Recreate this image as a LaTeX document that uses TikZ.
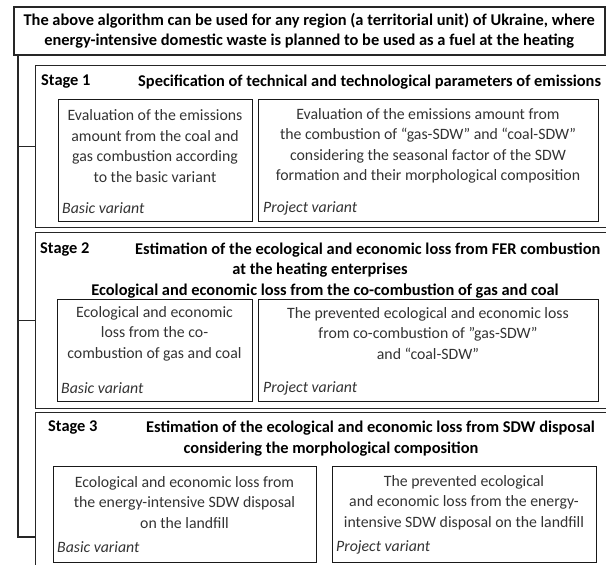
\documentclass[tikz,border=0pt]{standalone}
\usepackage{fontspec}
\setmainfont{Carlito}
\begin{document}
\begin{tikzpicture}[x=1pt,y=-1pt,
  txt/.style={font=\fontsize{15.8}{20.5}\selectfont,text=black!80,align=center,inner sep=0pt},
  head/.style={font=\fontsize{16.4}{20.5}\selectfont\bfseries,align=center,inner sep=0pt},
  var/.style={font=\fontsize{15.8}{20.5}\selectfont\itshape,text=black!80,anchor=west,inner sep=0pt},
  stagebox/.style={draw=black!85,line width=1.3pt,anchor=north west,inner sep=0pt},
  subbox/.style={draw=black!90,line width=1pt,anchor=north west,inner sep=0pt}]
\useasboundingbox (0,0) rectangle (606,565);
\pgfmathsetmacro{\sx}{35};
\pgfmathsetmacro{\sw}{580};
\node[stagebox,line width=1.5pt,minimum width=591pt,minimum height=48pt,head](alg) at (13,6){The above algorithm can be used for any region (a territorial unit) of Ukraine, where\\energy-intensive domestic waste is planned to be used as a fuel at the heating};
\node[stagebox,minimum width=\sw pt,minimum height=162pt](s1) at (\sx,65){};
\node[stagebox,minimum width=\sw pt,minimum height=176pt](s2) at (\sx,232){};
\node[stagebox,minimum width=\sw pt,minimum height=170pt](s3) at (\sx,412){};
\coordinate(trend) at (18,537);
\draw[line width=1.3pt,black!85]([xshift=5pt]alg.south west)--(trend)--(trend-|s3.west);
\draw[line width=1.3pt,black!85](s1.west-|trend)--(s1.west);
\draw[line width=1.3pt,black!85](s2.west-|trend)--(s2.west);
\node[head,anchor=west](s1n) at (41,82){Stage 1};
\node[head,anchor=west](s1h) at (138,82){Specification of technical and technological parameters of emissions};
\node[subbox,minimum width=194pt,minimum height=122pt](b1) at (58,99){};
\node[subbox,minimum width=340pt,minimum height=122pt](p1) at (258,99){};
\node[txt](b1t) at (155,146){Evaluation of the emissions\\amount from the coal and\\gas combustion according\\to the basic variant};
\node[txt](p1t) at (428,146){Evaluation of the emissions amount from\\the combustion of “gas-SDW” and “coal-SDW”\\considering the seasonal factor of the SDW\\formation and their morphological composition};
\node[var](b1v) at (62,208){Basic variant};
\node[var](p1v) at (263,208){Project variant};
\node[head,anchor=west](s2n) at (40,250){Stage 2};
\node[head,anchor=west](s2h) at (135,250){Estimation of the ecological and economic loss from FER combustion};
\node[head](s2h2) at (320,270.5){at the heating enterprises};
\node[head](s2h3) at (325,291){Ecological and economic loss from the co-combustion of gas and coal};
\node[subbox,minimum width=195pt,minimum height=102pt](b2) at (57,299){};
\node[subbox,minimum width=340pt,minimum height=102pt](p2) at (258,299){};
\node[txt](b2t) at (154.5,333.5){Ecological and economic\\loss from the co-\\combustion of gas and coal};
\node[txt](p2t) at (428,333.5){The prevented ecological and economic loss\\from co-combustion of ”gas-SDW”\\and “coal-SDW”};
\node[var](b2v) at (61,388){Basic variant};
\node[var](p2v) at (263,388){Project variant};
\node[head,anchor=west](s3n) at (48,428){Stage 3};
\node[head,anchor=west](s3h) at (146,428){Estimation of the ecological and economic loss from SDW disposal};
\node[head](s3h2) at (331,449){considering the morphological composition};
\node[subbox,minimum width=263pt,minimum height=96pt](b3) at (53,466){};
\node[subbox,minimum width=264pt,minimum height=96pt](p3) at (332,466){};
\node[txt](b3t) at (184.5,502.5){Ecological and economic loss from\\the energy-intensive SDW disposal\\on the landfill};
\node[txt](p3t) at (464,502.5){The prevented ecological\\and economic loss from the energy-\\intensive SDW disposal on the landfill};
\node[var](b3v) at (57,547){Basic variant};
\node[var](p3v) at (336,547){Project variant};
\end{tikzpicture}
\end{document}
